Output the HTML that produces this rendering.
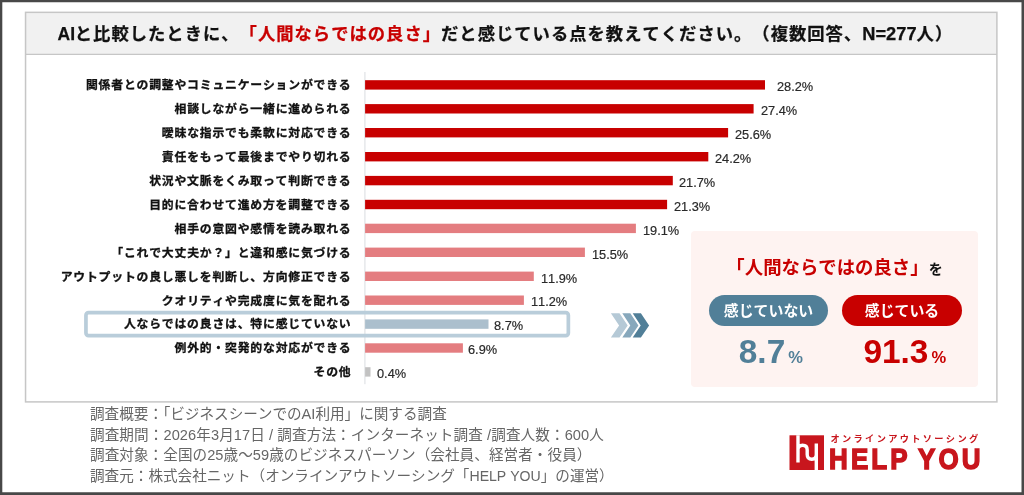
<!DOCTYPE html>
<html lang="ja">
<head>
<meta charset="utf-8">
<title>AIと比較したときの「人間ならではの良さ」</title>
<style>
  html, body { margin: 0; padding: 0; }
  body {
    width: 1024px; height: 495px; overflow: hidden; position: relative;
    background: #ffffff;
    font-family: "Liberation Sans", "Noto Sans CJK JP", sans-serif;
    color: #111;
    text-spacing-trim: space-all;
    font-kerning: none;
  }
  .abs { position: absolute; }
  #frame { position: absolute; left: 0; top: 0; }
  #panel { position: absolute; left: 0; top: 0; }
  #title {
    position: absolute; left: 57.4px; top: 12.2px; width: 940px; height: 43px;
    line-height: 43px; text-align: left; white-space: nowrap;
    font-size: 17.3px; letter-spacing: 1.03px; font-weight: 700; color: #111;
    -webkit-text-stroke-width: 0.25px;
  }
  #title .red { color: #c80000; }
  #title .lat { display: inline-block; font-size: 19px; letter-spacing: 0; margin-left: -1.6px; transform: scaleX(0.92); transform-origin: 100% 50%; }
  #title .lat2 { font-size: 18.3px; letter-spacing: 0; }
  .lbl {
    position: absolute; left: 41.5px; width: 310px; height: 24px; line-height: 24px;
    -webkit-text-stroke: 0.3px #111;
    text-align: right; white-space: nowrap; letter-spacing: 0.8px;
    font-size: 11.85px; font-weight: 700; color: #111;
  }
  .r1 { fill: #c80000; }
  .r2 { fill: #e47d80; }
  .r3 { fill: #abbfcd; }
  .r4 { fill: #c2c2c2; }
  .val {
    position: absolute; height: 24px; line-height: 24px; white-space: nowrap;
    font-size: 13.6px; color: #2a2a2a; -webkit-text-stroke: 0.2px #2a2a2a;
    transform: scaleX(0.94); transform-origin: 0 50%;
  }
  #hl { position: absolute; left: 80px; top: 306px; }
  #pink {
    position: absolute; left: 691px; top: 231px; width: 287px; height: 156px;
    background: #fef3f1; border-radius: 4px;
  }
  #ptitle {
    position: absolute; left: 691px; top: 253px; width: 287px; height: 30px; line-height: 30px;
    text-align: center; white-space: nowrap; font-weight: 700;
  }
  #ptitle .red { color: #c80000; font-size: 18.4px; }
  #ptitle .wo { color: #111; font-size: 14px; margin-left: 0px; }
  .pill {
    position: absolute; top: 295px; height: 31px; line-height: 32.6px; border-radius: 16px;
    text-align: center; color: #fff; font-weight: 700; font-size: 14.9px; white-space: nowrap;
  }
  #pill1 { left: 709px; width: 119px; background: #517f98; }
  #pill2 { left: 842px; width: 120px; background: #c80000; }
  .big {
    position: absolute; top: 329.5px; height: 44px; line-height: 44px; white-space: nowrap;
    text-align: left; font-weight: 700; font-size: 33.4px;
  }
  .big .pc { font-size: 16.5px; margin-left: 3px; }
  #big1 { left: 738.8px; color: #517f98; }
  #big2 { left: 863.4px; color: #c80000; }
  #foot {
    position: absolute; left: 90px; top: 403.6px; white-space: nowrap;
    font-size: 14.6px; line-height: 20.93px; color: #666;
    text-spacing-trim: normal;
  }
  #logo-kana {
    position: absolute; left: 830.5px; top: 431.6px; width: 160px; height: 14px; line-height: 14px;
    font-size: 9.2px; font-weight: 700; color: #c8161d; white-space: nowrap; letter-spacing: 2.35px;
  }
  #logo-text {
    position: absolute; left: 828.8px; top: 442.2px; height: 34px; line-height: 34px;
    font-size: 30.2px; font-weight: 700; color: #c8161d; white-space: nowrap;
    -webkit-text-stroke: 1.5px #c8161d; letter-spacing: 3.65px; word-spacing: -3.6px;
    transform: scaleX(0.86); transform-origin: 0 50%;
  }
</style>
</head>
<body>
<svg id="panel" width="1024" height="420" viewBox="0 0 1024 420">
  <rect x="25.55" y="12.35" width="971.35" height="42.05" fill="#f1f1f1"/>
  <path d="M25.55 54.4H996.9" fill="none" stroke="#c6c6c6" stroke-width="1.4"/>
  <rect x="25.55" y="12.35" width="971.35" height="389.55" fill="none" stroke="#c6c6c6" stroke-width="1.5"/>
</svg>
<div id="title"><span class="lat">AI</span>と比較したときに、<span class="red">「人間ならではの良さ」</span>だと感じている点を教えてください。（複数回答、<span class="lat2">N=277</span>人）</div>

<!-- rows -->
<div id="rows">
<div class="lbl" style="top:73.2px">関係者との調整やコミュニケーションができる</div>
<div class="val" style="top:75.1px;left:777.1px">28.2%</div>
<div class="lbl" style="top:97.1px">相談しながら一緒に進められる</div>
<div class="val" style="top:99.0px;left:761.0px">27.4%</div>
<div class="lbl" style="top:121.0px">曖昧な指示でも柔軟に対応できる</div>
<div class="val" style="top:122.9px;left:735.1px">25.6%</div>
<div class="lbl" style="top:145.0px">責任をもって最後までやり切れる</div>
<div class="val" style="top:146.9px;left:714.8px">24.2%</div>
<div class="lbl" style="top:168.9px">状況や文脈をくみ取って判断できる</div>
<div class="val" style="top:170.8px;left:679.2px">21.7%</div>
<div class="lbl" style="top:192.8px">目的に合わせて進め方を調整できる</div>
<div class="val" style="top:194.7px;left:673.7px">21.3%</div>
<div class="lbl" style="top:216.7px">相手の意図や感情を読み取れる</div>
<div class="val" style="top:218.6px;left:643.3px">19.1%</div>
<div class="lbl" style="top:240.6px">「これで大丈夫か？」と違和感に気づける</div>
<div class="val" style="top:242.5px;left:592.4px">15.5%</div>
<div class="lbl" style="top:264.6px">アウトプットの良し悪しを判断し、方向修正できる</div>
<div class="val" style="top:266.5px;left:540.9px">11.9%</div>
<div class="lbl" style="top:288.5px">クオリティや完成度に気を配れる</div>
<div class="val" style="top:290.4px;left:530.8px">11.2%</div>
<div class="lbl" style="top:312.4px">人ならではの良さは、特に感じていない</div>
<div class="val" style="top:314.3px;left:494.1px">8.7%</div>
<div class="lbl" style="top:336.3px">例外的・突発的な対応ができる</div>
<div class="val" style="top:338.2px;left:468.4px">6.9%</div>
<div class="lbl" style="top:360.2px">その他</div>
<div class="val" style="top:362.1px;left:376.6px">0.4%</div>
<svg class="abs" style="left:0;top:0" width="1024" height="400" viewBox="0 0 1024 400">
  <rect x="364.2" y="72" width="1.4" height="312.2" fill="#e4e6e9"/>
  <rect class="r1" x="365.1" y="80.2" width="399.9" height="9.4"/>
  <rect class="r1" x="365.1" y="104.1" width="388.5" height="9.4"/>
  <rect class="r1" x="365.1" y="128.0" width="363.0" height="9.4"/>
  <rect class="r1" x="365.1" y="152.0" width="343.2" height="9.4"/>
  <rect class="r1" x="365.1" y="175.9" width="307.7" height="9.4"/>
  <rect class="r1" x="365.1" y="199.8" width="302.0" height="9.4"/>
  <rect class="r2" x="365.1" y="223.7" width="270.8" height="9.4"/>
  <rect class="r2" x="365.1" y="247.6" width="219.8" height="9.4"/>
  <rect class="r2" x="365.1" y="271.6" width="168.7" height="9.4"/>
  <rect class="r2" x="365.1" y="295.5" width="158.8" height="9.4"/>
  <rect class="r3" x="365.1" y="319.4" width="123.4" height="9.4"/>
  <rect class="r2" x="365.1" y="343.3" width="97.8" height="9.4"/>
  <rect class="r4" x="365.1" y="367.2" width="5.4" height="9.4"/>
</svg>
</div>

<svg id="hl" width="496" height="36" viewBox="80 306 496 36"><rect x="85.95" y="312.6" width="482.4" height="23" rx="2.6" ry="2.6" fill="none" stroke="#b9cdda" stroke-width="3.7"/></svg>

<!-- arrows -->
<svg class="abs" style="left:605px;top:308px" width="50" height="35" viewBox="605 308 50 35">
  <polygon points="610.9,313.2 619.5,313.2 627.7,325.4 619.5,337.6 610.9,337.6 619.1,325.4" fill="#b5c9d6"/>
  <polygon points="622.3,313.2 630.3,313.2 638.4,325.4 630.3,337.6 622.3,337.6 630.3,325.4" fill="#87a8bc"/>
  <polygon points="632.7,313.2 640.9,313.2 649.1,325.4 640.9,337.6 632.7,337.6 640.7,325.4" fill="#517f98"/>
</svg>

<div id="pink"></div>
<div id="ptitle"><span class="red">「人間ならではの良さ」</span><span class="wo">を</span></div>
<div id="pill1" class="pill">感じていない</div>
<div id="pill2" class="pill">感じている</div>
<div id="big1" class="big">8.7<span class="pc">%</span></div>
<div id="big2" class="big">91.3<span class="pc">%</span></div>

<div id="foot">調査概要：「ビジネスシーンでのAI利用」に関する調査<br><span style="letter-spacing:0.09px">調査期間：2026年3月17日 / 調査方法：インターネット調査 /調査人数：600人</span><br><span style="letter-spacing:0.055px">調査対象：全国の25歳～59歳のビジネスパーソン（会社員、経営者・役員）</span><br>調査元：株式会社ニット（オンラインアウトソーシング「<span style="font-size:14.1px">HELP YOU</span>」の運営）</div>

<!-- logo -->
<svg class="abs" style="left:789px;top:435px" width="36" height="36" viewBox="0 0 36 36">
  <rect x="0.5" y="0.3" width="34.5" height="34.7" fill="#c8161d"/>
  <path d="M9 0.3 V27.6 M9 14.6 C9 11.5 11 10.3 13.6 10.3 C16.4 10.3 18.2 11.8 18.2 15 V19.6 C18.2 22.8 20 24.3 22.8 24.3 C25.5 24.3 27.3 22.8 27.3 19.6 M27.3 8.6 V35" fill="none" stroke="#fff" stroke-width="3.4"/>
</svg>
<div id="logo-kana">オンラインアウトソーシング</div>
<div id="logo-text">HELP YOU</div>

<svg id="frame" width="1024" height="495" viewBox="0 0 1024 495"><path fill="#484848" fill-rule="evenodd" d="M0 0H1024V495H0Z M2.3 2.3V492.3H1021.5V2.3Z"/></svg>
</body>
</html>
